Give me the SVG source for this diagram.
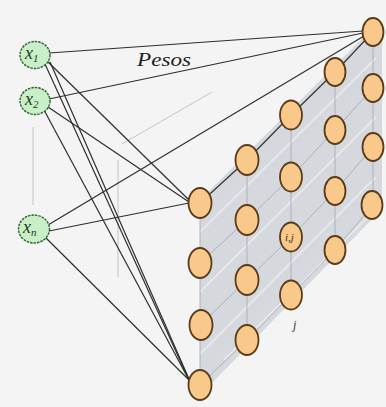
<svg xmlns="http://www.w3.org/2000/svg" width="386" height="407" viewBox="0 0 386 407">
  <style>
    .bg { fill: #f4f4f4; }
    .plane { fill: #d5d8dd; }
    .grid { stroke: #a9adb3; stroke-width: 0.9; fill: none; }
    .stripe { stroke: #e6e8eb; stroke-width: 2; fill: none; }
    .faint { stroke: #c4c4c4; stroke-width: 1; fill: none; }
    .edge { stroke: #3a3a3a; stroke-width: 1.3; fill: none; }
    .wire { stroke: #2e2e2e; stroke-width: 1.2; fill: none; }
    .input { fill: #c8efc8; stroke: #2f5e2f; stroke-width: 1.4; stroke-dasharray: 2.5 1; }
    .unit { fill: #f8c98b; stroke: #5c3b18; stroke-width: 1.8; }
    .lbl { font-family: "Liberation Serif", "DejaVu Serif", serif; font-style: italic; fill: #1f3a1f; }
  </style>

  <rect class="bg" x="0" y="0" width="386" height="407"/>

  <!-- output layer plane -->
  <g id="plane">
    <polygon class="plane" points="200,200 374,27 382,36 382,209 207,388 200,386"/>
    <!-- light stripes across the plane -->
    <path class="stripe" d="M200,232 L376,58 M200,292 L376,117 M200,354 L376,177 M224,360 L380,205"/>
    <!-- columns -->
    <path class="grid" d="M200,203 V385 M247,160 V340 M291,115 V295 M335,72 V250 M373,32 V205"/>
    <!-- rows -->
    <path class="grid" d="M200,263 L247,220 L291,177 L335,130 L373,88 M200,325 L247,280 L291,237 L335,191 L373,147 M200,385 L247,340 L291,295 L335,250 L373,205"/>
    <!-- top edge -->
    <path class="edge" d="M200,203 L247,160 L291,115 L335,72 L373,32"/>
  </g>

  <!-- faint background frame lines -->
  <g id="frame">
    <path class="faint" d="M118,160 V277 M122,144 L212,92"/>
    <path class="faint" d="M33,127 V205"/>
  </g>

  <!-- weight connections -->
  <g id="connectors">
    <path class="wire" d="M49,53 L363,31"/>
    <path class="wire" d="M49,99 L363,33"/>
    <path class="wire" d="M48,225 L364,36"/>
    <path class="wire" d="M47,61 L189,200"/>
    <path class="wire" d="M48,107 L189,202"/>
    <path class="wire" d="M49,231 L189,203"/>
    <path class="wire" d="M45,64 L189,380"/>
    <path class="wire" d="M50,62 L189,379"/>
    <path class="wire" d="M44,110 L189,380"/>
    <path class="wire" d="M46,238 L189,380"/>
  </g>

  <text class="lbl" x="137" y="66" font-size="19" textLength="54" lengthAdjust="spacingAndGlyphs" style="fill:#1e1e1e">Pesos</text>

  <!-- input nodes -->
  <g id="x1">
    <ellipse class="input" cx="35" cy="55" rx="15" ry="13.5"/>
    <text class="lbl" x="25" y="59" font-size="18">x<tspan font-size="11" dy="3">1</tspan></text>
  </g>
  <g id="x2">
    <ellipse class="input" cx="35" cy="101" rx="15" ry="13.5"/>
    <text class="lbl" x="25" y="105" font-size="18">x<tspan font-size="11" dy="3">2</tspan></text>
  </g>
  <g id="xn">
    <ellipse class="input" cx="34" cy="229" rx="15.5" ry="14"/>
    <text class="lbl" x="23" y="233" font-size="18">x<tspan font-size="11" dy="3">n</tspan></text>
  </g>

  <!-- output units, column by column -->
  <g id="c1">
    <ellipse class="unit" cx="200" cy="203" rx="11.5" ry="15"/>
    <ellipse class="unit" cx="200" cy="263" rx="11.5" ry="15"/>
    <ellipse class="unit" cx="201" cy="325" rx="11.5" ry="15"/>
    <ellipse class="unit" cx="200" cy="385" rx="11.5" ry="15"/>
  </g>
  <g id="c2">
    <ellipse class="unit" cx="247" cy="160" rx="11.5" ry="15"/>
    <ellipse class="unit" cx="247" cy="220" rx="11.5" ry="15"/>
    <ellipse class="unit" cx="247" cy="280" rx="11.5" ry="15"/>
    <ellipse class="unit" cx="247" cy="340" rx="11.5" ry="15"/>
  </g>
  <g id="c3">
    <ellipse class="unit" cx="291" cy="115" rx="11" ry="14.5"/>
    <ellipse class="unit" cx="291" cy="177" rx="11" ry="14.5"/>
    <ellipse class="unit" cx="291" cy="237" rx="11" ry="14.5"/>
    <ellipse class="unit" cx="291" cy="295" rx="11" ry="14.5"/>
    <text class="lbl" x="285" y="241" font-size="11" style="fill:#4a2e10">i,j</text>
  </g>
  <g id="c4">
    <ellipse class="unit" cx="335" cy="72" rx="10.5" ry="14"/>
    <ellipse class="unit" cx="335" cy="130" rx="10.5" ry="14"/>
    <ellipse class="unit" cx="335" cy="191" rx="10.5" ry="14"/>
    <ellipse class="unit" cx="335" cy="250" rx="10.5" ry="14"/>
  </g>
  <g id="c5">
    <ellipse class="unit" cx="373" cy="32" rx="10.5" ry="14"/>
    <ellipse class="unit" cx="373" cy="88" rx="10.5" ry="14"/>
    <ellipse class="unit" cx="373" cy="147" rx="10.5" ry="14"/>
    <ellipse class="unit" cx="372" cy="205" rx="10.5" ry="14"/>
  </g>

  <text class="lbl" x="293" y="329" font-size="12" style="fill:#333">j</text>
</svg>
